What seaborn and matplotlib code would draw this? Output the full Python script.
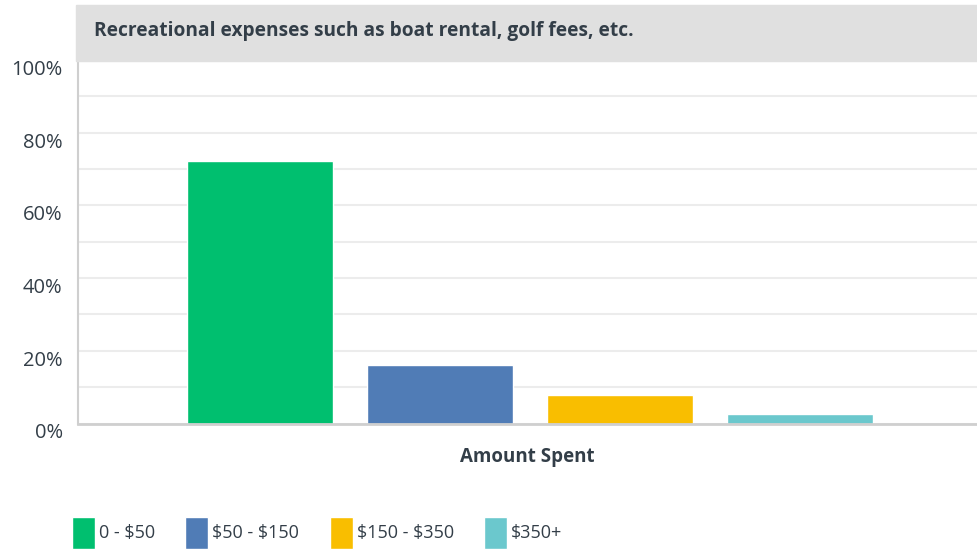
import matplotlib as mpl
import matplotlib.pyplot as plt
import matplotlib.transforms as mtransforms
from matplotlib.patches import Rectangle
import pandas as pd
import seaborn as sns

# Data
CATEGORIES = ["0 - $50", "$50 - $150", "$150 - $350", "$350+"]
PERCENT = [72.2, 16.1, 7.8, 2.6]
COLORS = ["#00bf6f", "#507cb6", "#f9be00", "#6bc8cd"]
TITLE = "Recreational expenses such as boat rental, golf fees, etc."
X_LABEL = "Amount Spent"
TEXT = "#333e48"

if __name__ == "__main__":
    sns.set_theme(style="white")
    plt.rcParams["font.family"] = ["Open Sans", "DejaVu Sans"]

    df = pd.DataFrame({"cat": CATEGORIES, "pct": PERCENT})

    fig = plt.figure(figsize=(9.77, 5.5), dpi=100)
    ax = fig.add_axes([78 / 977, 1 - 423.5 / 550, 1 - 78 / 977, (423.5 - 60) / 550])

    sns.barplot(data=df, x="cat", y="pct", hue="cat", palette=COLORS,
                width=0.815, saturation=1, legend=True, ax=ax)

    # header band
    fig.patches.append(Rectangle((76 / 977, 1 - 61 / 550), 1, 56 / 550,
                                 transform=fig.transFigure, color="#e0e0e0",
                                 zorder=0))
    fig.text(94 / 977, 1 - 31 / 550, TITLE, fontsize=13.8, fontweight="bold",
             color=TEXT, va="center", ha="left")

    # axes styling
    ax.set_ylim(0, 100)
    ax.set_xlim(-1.011, 3.983)
    ax.set_yticks(range(0, 101, 20))
    ax.set_yticks(range(10, 100, 20), minor=True)
    ax.set_yticklabels([f"{v}%" for v in range(0, 101, 20)])
    ax.grid(axis="y", which="both", color="#ececec", linewidth=1.5, zorder=0)
    ax.set_axisbelow(True)
    ax.set_xticks([])
    ax.tick_params(axis="y", which="both", length=0, pad=11,
                   labelsize=14.5, labelcolor=TEXT)
    offset = mtransforms.ScaledTranslation(0, -0.075, fig.dpi_scale_trans)
    for lbl in ax.get_yticklabels():
        lbl.set_transform(lbl.get_transform() + offset)

    for side in ["top", "right"]:
        ax.spines[side].set_visible(False)
    ax.spines["left"].set_color("#cfcfcf")
    ax.spines["left"].set_linewidth(1.5)
    ax.spines["bottom"].set_color("#cfcfcf")
    ax.spines["bottom"].set_linewidth(2)

    ax.set_ylabel("")
    ax.set_xlabel(X_LABEL, fontsize=13.5, fontweight="bold", color=TEXT,
                  labelpad=17)

    # legend
    sns.move_legend(ax, "lower left", bbox_to_anchor=(62 / 977, -0.016),
                    bbox_transform=fig.transFigure, ncol=4, frameon=False,
                    title=None, fontsize=13, handlelength=1.27,
                    handleheight=2.35, handletextpad=0.22, columnspacing=1.69,
                    borderaxespad=0.15)
    for txt in ax.get_legend().get_texts():
        txt.set_parse_math(False)
        txt.set_color(TEXT)

    fig.savefig("out.png", dpi=100)
